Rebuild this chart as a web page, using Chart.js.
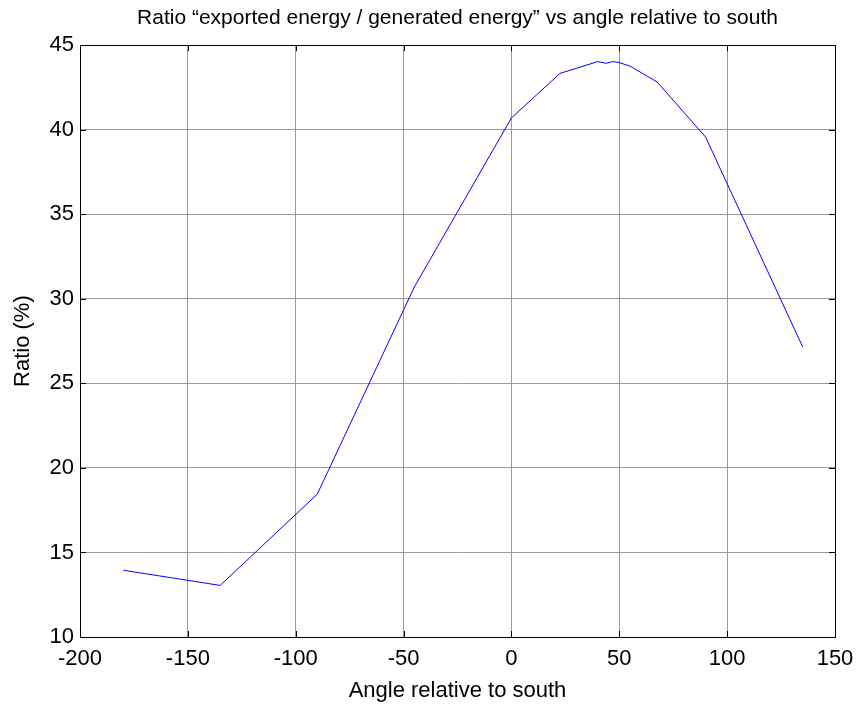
<!DOCTYPE html>
<html>
<head>
<meta charset="utf-8">
<script src="https://cdn.jsdelivr.net/npm/chart.js@4/dist/chart.umd.min.js"></script>
<style>
  html, body { margin: 0; padding: 0; background: #fff; }
  #wrap { width: 858px; height: 704px; }
</style>
</head>
<body>
<div id="wrap"><canvas id="ratioChart" width="858" height="704"></canvas></div>
<script>
const angles = [-180, -135, -90, -45, 0, 22.5, 40, 44, 47, 50, 55, 67.5, 90, 135];
const ratios = [13.95, 13.05, 18.45, 30.7, 40.7, 43.33, 44.03, 43.93, 44.03, 43.97, 43.76, 42.83, 39.57, 27.16];

const xTicks = [-200, -150, -100, -50, 0, 50, 100, 150];
const yTicks = [10, 15, 20, 25, 30, 35, 40, 45];

const fontFamily = "'Liberation Sans', Arial, sans-serif";

// matlab style box with ticks pointing inward
const boxTicks = {
  id: "boxTicks",
  afterDraw(chart) {
    const { ctx, chartArea: a, scales } = chart;
    ctx.save();
    ctx.strokeStyle = "#000";
    ctx.lineWidth = 1;
    ctx.beginPath();
    xTicks.forEach(v => {
      const x = Math.round(scales.x.getPixelForValue(v)) + 0.5;
      ctx.moveTo(x, a.bottom); ctx.lineTo(x, a.bottom - 6);
      ctx.moveTo(x, a.top); ctx.lineTo(x, a.top + 6);
    });
    yTicks.forEach(v => {
      const y = Math.round(scales.y.getPixelForValue(v)) + 0.5;
      ctx.moveTo(a.left, y); ctx.lineTo(a.left + 6, y);
      ctx.moveTo(a.right, y); ctx.lineTo(a.right - 6, y);
    });
    ctx.stroke();
    ctx.strokeRect(Math.round(a.left) + 0.5, Math.round(a.top) + 0.5,
      Math.round(a.right - a.left), Math.round(a.bottom - a.top));
    ctx.restore();
  }
};

new Chart(document.getElementById("ratioChart"), {
  type: "scatter",
  data: {
    datasets: [{
      data: angles.map((a, i) => ({ x: a, y: ratios[i] })),
      showLine: true,
      borderColor: "#0000ff",
      borderWidth: 1,
      pointRadius: 0,
      tension: 0,
      fill: false
    }]
  },
  options: {
    responsive: false,
    animation: false,
    layout: { padding: { left: 0, right: 23, top: 0, bottom: 0 } },
    plugins: {
      legend: { display: false },
      tooltip: { enabled: false },
      title: {
        display: true,
        fullSize: false,
        text: "Ratio \u201cexported energy / generated energy\u201d vs angle relative to south",
        color: "#000",
        font: { family: fontFamily, size: 21, weight: "normal" },
        padding: { top: 6, bottom: 14 }
      }
    },
    scales: {
      x: {
        type: "linear",
        min: -200,
        max: 150,
        afterBuildTicks: s => { s.ticks = xTicks.map(v => ({ value: v })); },
        afterFit: s => { s.height = 67; s.paddingLeft = 0; s.paddingRight = 0; },
        grid: { color: "#9a9a9a", lineWidth: 1, drawTicks: false },
        border: { display: false },
        ticks: {
          color: "#000",
          padding: 9,
          maxRotation: 0,
          autoSkip: false,
          font: { family: fontFamily, size: 22 }
        },
        title: {
          display: true,
          text: "Angle relative to south",
          color: "#000",
          font: { family: fontFamily, size: 22 },
          padding: { top: 0, bottom: 0 }
        }
      },
      y: {
        min: 10,
        max: 45,
        afterBuildTicks: s => { s.ticks = yTicks.map(v => ({ value: v })); },
        afterFit: s => { s.width = 80; },
        grid: { color: "#9a9a9a", lineWidth: 1, drawTicks: false },
        border: { display: false },
        ticks: {
          color: "#000",
          padding: 6,
          autoSkip: false,
          font: { family: fontFamily, size: 22 }
        },
        title: {
          display: true,
          text: "Ratio (%)",
          color: "#000",
          font: { family: fontFamily, size: 22 },
          padding: { top: 10, bottom: 4 }
        }
      }
    }
  },
  plugins: [boxTicks]
});
</script>
</body>
</html>
